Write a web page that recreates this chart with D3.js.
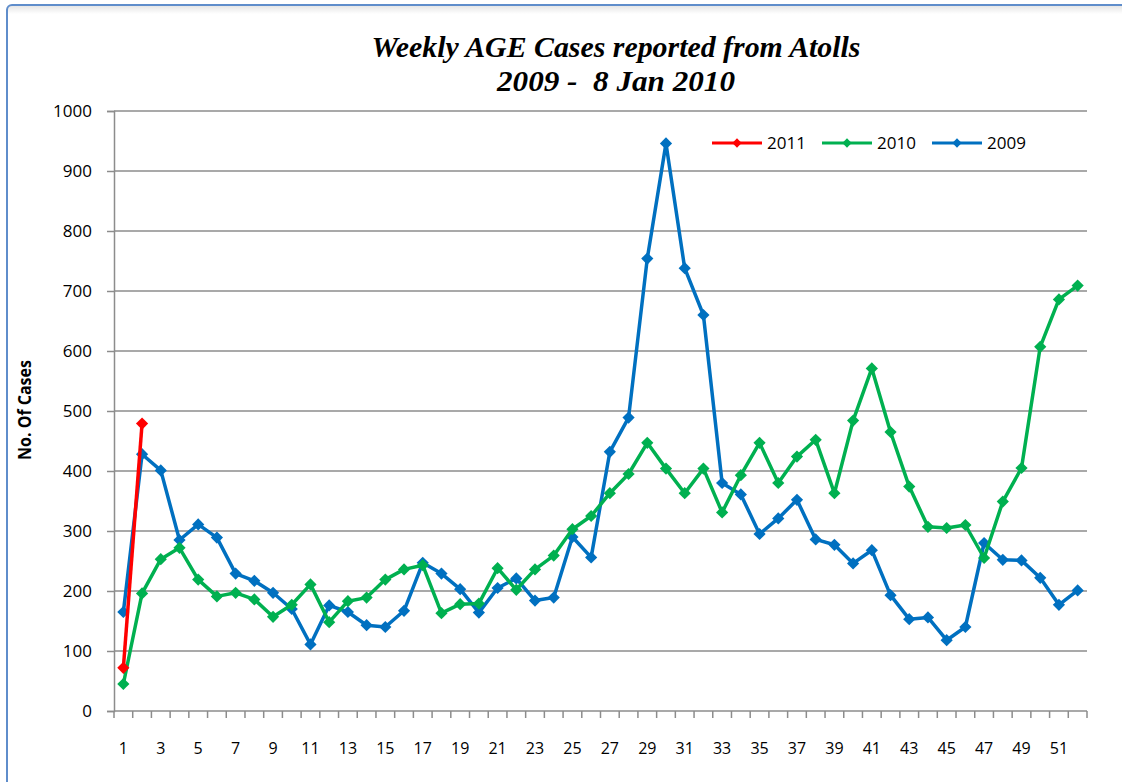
<!DOCTYPE html>
<html>
<head>
<meta charset="utf-8">
<script src="https://cdn.jsdelivr.net/npm/d3@7"></script>
<style>
  body { margin: 0; background: #fff; }
  svg { display: block; }
</style>
</head>
<body>
<div id="chart"></div>
<script>
// Week numbers 1..52
const weeks = d3.range(1, 53);

// Weekly cases per year
const cases2009 = [165, 428, 401, 285, 311, 289, 229, 217, 197, 170,
  111, 176, 165, 143, 140, 167, 247, 229, 203, 164,
  205, 221, 184, 189, 290, 256, 432, 489, 754, 946,
  738, 660, 380, 361, 295, 321, 352, 286, 277, 246,
  268, 193, 153, 156, 118, 140, 280, 252, 251, 222,
  177, 201];
const cases2010 = [45, 196, 253, 272, 219, 191, 197, 186, 157, 177,
  211, 148, 183, 189, 219, 236, 243, 163, 178, 179,
  238, 202, 236, 259, 303, 325, 363, 395, 447, 404,
  363, 404, 331, 393, 447, 380, 424, 452, 363, 484,
  571, 465, 374, 307, 305, 310, 255, 349, 405, 607,
  686, 709];
const cases2011 = [72, 479];

const series = [
  { name: "2011", color: "#FF0000", values: cases2011 },
  { name: "2010", color: "#00B050", values: cases2010 },
  { name: "2009", color: "#0070C0", values: cases2009 }
];

const yTicks = d3.range(0, 1001, 100);
const xTickLabels = weeks.filter(w => w % 2 === 1);

const W = 1122, H = 782;
const margin = { top: 111, right: 35, bottom: 71, left: 114 };
const width = 1087 - margin.left;
const height = 711 - margin.top;

const font = "'Open Sans', 'Liberation Sans', sans-serif";

const svg = d3.select("#chart").append("svg")
  .attr("width", W)
  .attr("height", H);

// outer frame with soft shadow
const defs = svg.append("defs");
const grad = defs.append("linearGradient").attr("id", "shade").attr("x1", 0).attr("y1", 0).attr("x2", 0).attr("y2", 1);
grad.append("stop").attr("offset", 0).attr("stop-color", "#e6e6e6");
grad.append("stop").attr("offset", 1).attr("stop-color", "#ffffff");
svg.append("rect")
  .attr("x", 8).attr("y", 6).attr("width", W).attr("height", 8)
  .attr("fill", "url(#shade)");
svg.append("rect")
  .attr("x", 7).attr("y", 5).attr("width", W + 20).attr("height", H + 20)
  .attr("rx", 5)
  .attr("fill", "none")
  .attr("stroke", "#5F8DCB")
  .attr("stroke-width", 2);

// title
const title = svg.append("text")
  .attr("text-anchor", "middle")
  .attr("xml:space", "preserve")
  .style("white-space", "pre")
  .style("font-family", "'Liberation Serif', 'Times New Roman', serif")
  .style("font-style", "italic")
  .style("font-weight", "bold")
  .style("font-size", "29px")
  .attr("fill", "#000");
title.append("tspan").attr("x", 616).attr("y", 57)
  .attr("textLength", 489).attr("lengthAdjust", "spacingAndGlyphs")
  .text("Weekly AGE Cases reported from Atolls");
title.append("tspan").attr("x", 616).attr("y", 91)
  .attr("textLength", 238).attr("lengthAdjust", "spacingAndGlyphs")
  .text("2009 -  8 Jan 2010");

const g = svg.append("g")
  .attr("transform", "translate(" + margin.left + "," + margin.top + ")");

const xBand = d3.scaleBand().domain(weeks).range([0, width]);
const x = w => xBand(w) + xBand.bandwidth() / 2;
const y = d3.scaleLinear().domain([0, 1000]).range([height, 0]);

// horizontal gridlines
g.append("g")
  .selectAll("line")
  .data(yTicks.filter(d => d > 0))
  .enter()
  .append("line")
  .attr("x1", 0).attr("x2", width)
  .attr("y1", d => y(d)).attr("y2", d => y(d))
  .attr("stroke", "#8c8c8c")
  .attr("stroke-width", 1.5);

// y axis
const yAxis = d3.axisLeft(y).tickValues(yTicks).tickFormat(d3.format("d"))
  .tickSize(7).tickPadding(15);
const yg = g.append("g").call(yAxis);
yg.select(".domain").attr("stroke", "#8c8c8c").attr("stroke-width", 1.5);
yg.selectAll(".tick line").attr("stroke", "#8c8c8c").attr("stroke-width", 1.5);
yg.selectAll(".tick text")
  .style("font-family", font)
  .style("font-size", "17px")
  .attr("fill", "#000");

// x axis: tick marks at every category boundary
const xg = g.append("g").attr("transform", "translate(0," + height + ")");
xg.append("line")
  .attr("x1", 0).attr("x2", width)
  .attr("stroke", "#8c8c8c").attr("stroke-width", 1.5);
xg.selectAll(".bound")
  .data(weeks.concat([53]))
  .enter()
  .append("line")
  .attr("class", "bound")
  .attr("x1", d => d === 53 ? width : xBand(d))
  .attr("x2", d => d === 53 ? width : xBand(d))
  .attr("y1", 0).attr("y2", 7)
  .attr("stroke", "#8c8c8c").attr("stroke-width", 1.5);
xg.selectAll(".lbl")
  .data(xTickLabels)
  .enter()
  .append("text")
  .attr("class", "lbl")
  .attr("x", d => x(d))
  .attr("y", 43)
  .attr("text-anchor", "middle")
  .style("font-family", font)
  .style("font-size", "16px")
  .text(d => d);

// y axis title
svg.append("text")
  .attr("transform", "translate(31,410) rotate(-90)")
  .attr("text-anchor", "middle")
  .attr("textLength", 100)
  .attr("lengthAdjust", "spacingAndGlyphs")
  .style("font-family", font)
  .style("font-weight", "bold")
  .style("font-size", "17px")
  .text("No. Of Cases");

// lines and diamond markers
const line = d3.line()
  .x((d, i) => x(weeks[i]))
  .y(d => y(d));
const diamond = d3.symbol().type(d3.symbolDiamond2).size(95);

// draw 2009 first, then 2010, then 2011 on top
series.slice().reverse().forEach(s => {
  g.append("path")
    .datum(s.values)
    .attr("d", line)
    .attr("fill", "none")
    .attr("stroke", s.color)
    .attr("stroke-width", 3.5)
    .attr("stroke-linejoin", "round");
  g.selectAll(".m" + s.name)
    .data(s.values)
    .enter()
    .append("path")
    .attr("d", diamond)
    .attr("transform", (d, i) => "translate(" + x(weeks[i]) + "," + y(d) + ")")
    .attr("fill", s.color);
});

// legend
const legend = svg.append("g").attr("transform", "translate(712,143)");
const item = legend.selectAll(".item")
  .data(series)
  .enter()
  .append("g")
  .attr("transform", (d, i) => "translate(" + (i * 110) + ",0)");
item.append("line")
  .attr("x1", 0).attr("x2", 50)
  .attr("stroke", d => d.color).attr("stroke-width", 3);
item.append("path")
  .attr("d", d3.symbol().type(d3.symbolDiamond2).size(55))
  .attr("transform", "translate(25,0)")
  .attr("fill", d => d.color);
item.append("text")
  .attr("x", 55).attr("y", 6)
  .style("font-family", font)
  .style("font-size", "17px")
  .text(d => d.name);
</script>
</body>
</html>
